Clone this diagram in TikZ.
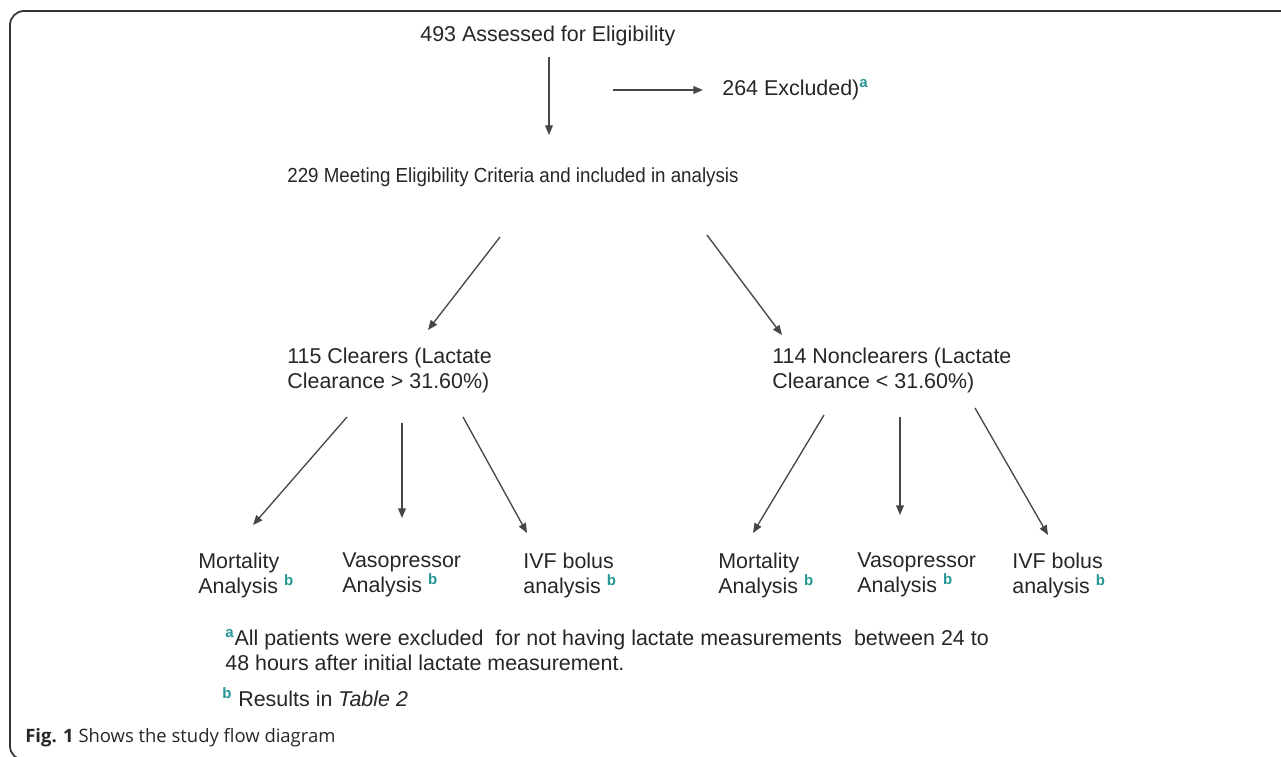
\documentclass[tikz,border=0pt]{standalone}
\usepackage{fontspec}
\setmainfont{Liberation Sans}
\newfontfamily\capfont{Open Sans}
\usetikzlibrary{arrows.meta}
\definecolor{supteal}{RGB}{38,150,150}
\definecolor{arrgray}{RGB}{70,70,70}
\newcommand{\fnm}[1]{\textsuperscript{\textcolor{supteal}{\bfseries #1}}}

\begin{document}
\begin{tikzpicture}[x=0.02cm,y=-0.02cm,>={Triangle[length=5.5pt,width=4.4pt]}]
 \tikzstyle{every node}=[inner sep=0pt,align=left,anchor=west,text=black!85,font=\fontsize{12.2}{14.2}\selectfont];
    \tikzstyle{flow}=[->,draw=arrgray,line width=0.75pt];
    \useasboundingbox (0, 0) rectangle (1281, 757);
    \clip (0, 0) rectangle (1281, 757);
    \draw[line width=1pt,draw=black!80,rounded corners=8] (1300, 11) -- (10, 11) -- (10, 760) -- (40, 760);

    \node at (420, 36) (ass) {493 Assessed for Eligibility};
    \node at (722, 90) (exc) {264 Excluded)\fnm{a}};
    \node at (287, 177) (inc) [font=\fontsize{11.6}{13.6}\selectfont] {\scalebox{0.92}[1]{229 Meeting Eligibility Criteria and included in analysis}};
    \node at (287, 370) (cl) {115 Clearers (Lactate\\Clearance > 31.60\%)};
    \node at (772, 370) (ncl) {114 Nonclearers (Lactate\\Clearance < 31.60\%)};
    \node at (198, 575) (mo1) {Mortality\\Analysis \fnm{b}};
    \node at (342, 575) (va1) {Vasopressor\\Analysis \fnm{b}};
    \node at (523, 575) (iv1) {IVF bolus\\analysis \fnm{b}};
    \node at (718, 575) (mo2) {Mortality\\Analysis \fnm{b}};
    \node at (857, 575) (va2) {Vasopressor\\Analysis \fnm{b}};
    \node at (1012, 575) (iv2) {IVF bolus\\analysis \fnm{b}};
    \node at (225, 650) (fna) {\fnm{a}All patients were excluded\ \ for not having lactate measurements\ \ between 24 to\\48 hours after initial lactate measurement.};
    \node at (222, 697) (fnb) {\fnm{b} Results in \textit{Table 2}};
    \node at (25, 738) (cap) [font=\capfont\fontsize{10.5}{12.5}\selectfont] {\textbf{Fig. 1} Shows the study flow diagram};

    % arrow ends
    \coordinate (ass-s) at (549, 57);
    \coordinate (inc-n) at (549, 135);
    \coordinate (side-w) at (613, 90);
    \coordinate (exc-w) at (703, 90);
    \coordinate (inc-sw) at (500, 237);
    \coordinate (inc-se) at (707, 235);
    \coordinate (cl-n) at (428, 330);
    \coordinate (ncl-n) at (782, 335);
    \coordinate (cl-s1) at (347, 417);
    \coordinate (cl-s2) at (402, 423);
    \coordinate (cl-s3) at (463, 417);
    \coordinate (mo1-n) at (253, 525);
    \coordinate (va1-n) at (402, 518);
    \coordinate (iv1-n) at (527, 533);
    \coordinate (ncl-s1) at (824, 415);
    \coordinate (ncl-s2) at (900, 417);
    \coordinate (ncl-s3) at (975, 408);
    \coordinate (mo2-n) at (753, 533);
    \coordinate (va2-n) at (900, 515);
    \coordinate (iv2-n) at (1048, 535);

    \draw[flow] (ass-s) -- (inc-n);
    \draw[flow] (side-w) -- (exc-w);
    \draw[flow] (inc-sw) -- (cl-n);
    \draw[flow] (inc-se) -- (ncl-n);
    \draw[flow] (cl-s1) -- (mo1-n);
    \draw[flow] (cl-s2) -- (va1-n);
    \draw[flow] (cl-s3) -- (iv1-n);
    \draw[flow] (ncl-s1) -- (mo2-n);
    \draw[flow] (ncl-s2) -- (va2-n);
    \draw[flow] (ncl-s3) -- (iv2-n);
\end{tikzpicture}
\end{document}
